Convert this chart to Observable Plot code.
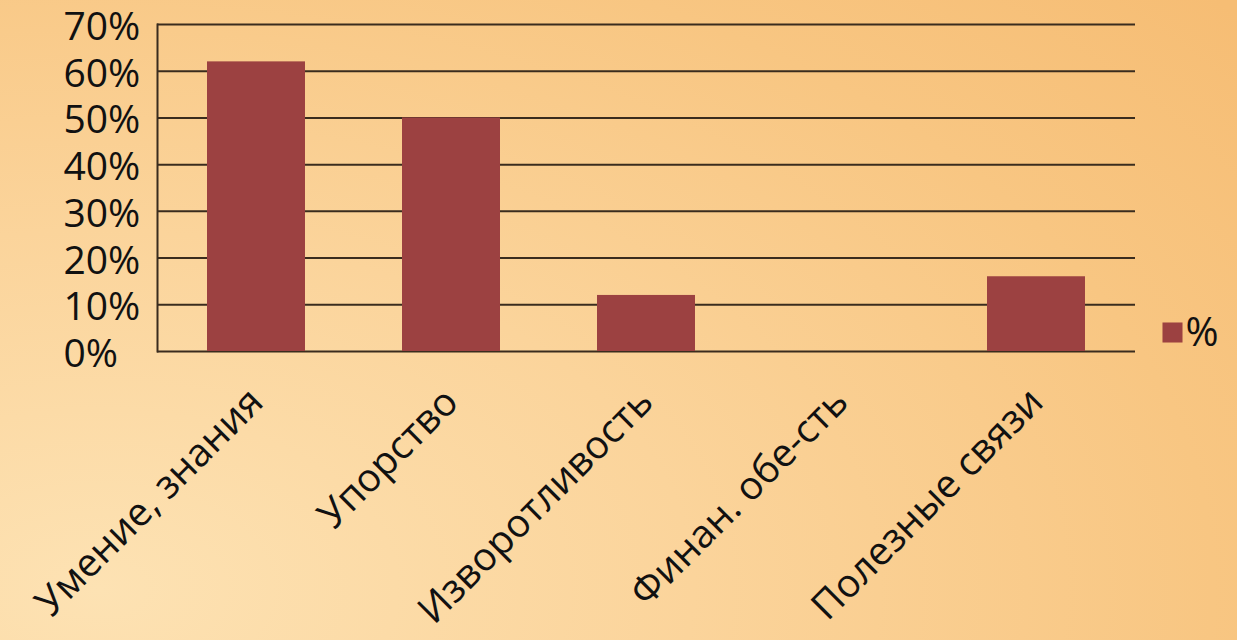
<!DOCTYPE html>
<html>
<head>
<meta charset="utf-8">
<script src="https://cdn.jsdelivr.net/npm/d3@7"></script>
<script src="https://cdn.jsdelivr.net/npm/@observablehq/plot@0.6"></script>
<style>
  html, body { margin: 0; padding: 0; width: 1237px; height: 640px; overflow: hidden; }
  body {
    background: radial-gradient(ellipse 120% 140% at 8% 92%, #fde2b3 0%, #fbd49b 40%, #f8c682 75%, #f6bd74 100%);
    font-family: "Open Sans", sans-serif;
  }
  #chart svg { display: block; }
</style>
</head>
<body>
<div id="chart"></div>
<script>
// Data
const categories = ["Умение, знания", "Упорство", "Изворотливость", "Финан. обе-сть", "Полезные связи"];
const values = [0.62, 0.50, 0.12, 0, 0.16];
const yTicks = [0, 0.1, 0.2, 0.3, 0.4, 0.5, 0.6, 0.7];
const seriesName = "%";

const data = categories.map((c, i) => ({category: c, value: values[i]}));

const barColor = "#9c4141";
const gridColor = "#3a2c1e";

const chart = Plot.plot({
  width: 1237,
  height: 640,
  marginLeft: 157,
  marginRight: 102,
  marginTop: 24,
  marginBottom: 289,
  style: {background: "transparent", fontFamily: "'Open Sans', sans-serif", color: "#111"},
  x: {domain: categories, paddingInner: 0.5, paddingOuter: 0.25, label: null},
  y: {domain: [0, 0.7], label: null},
  marks: [
    Plot.gridY(yTicks, {stroke: gridColor, strokeOpacity: 1, strokeWidth: 2}),
    Plot.frame({anchor: "left", stroke: gridColor, strokeWidth: 2}),
    Plot.barY(data, {x: "category", y: "value", fill: barColor}),
    Plot.axisY(yTicks, {
      tickSize: 0, tickPadding: 94, textAnchor: "start",
      tickFormat: d => Math.round(d * 100) + "%",
      fontSize: 39, fill: "#111", dy: 3, label: null
    }),
    Plot.axisX({
      tickSize: 0, tickPadding: 44, tickRotate: -45,
      fontSize: 39, fill: "#111", label: null
    }),
    Plot.dot([seriesName], {frameAnchor: "bottom-right", symbol: "square", r: 11.3, fill: barColor, dx: 37, dy: -19}),
    Plot.text([seriesName], {frameAnchor: "bottom-right", lineAnchor: "middle", text: d => d, textAnchor: "start", fontSize: 40, fill: "#111", dx: 50, dy: -18})
  ]
});
document.getElementById("chart").appendChild(chart);
</script>
</body>
</html>
